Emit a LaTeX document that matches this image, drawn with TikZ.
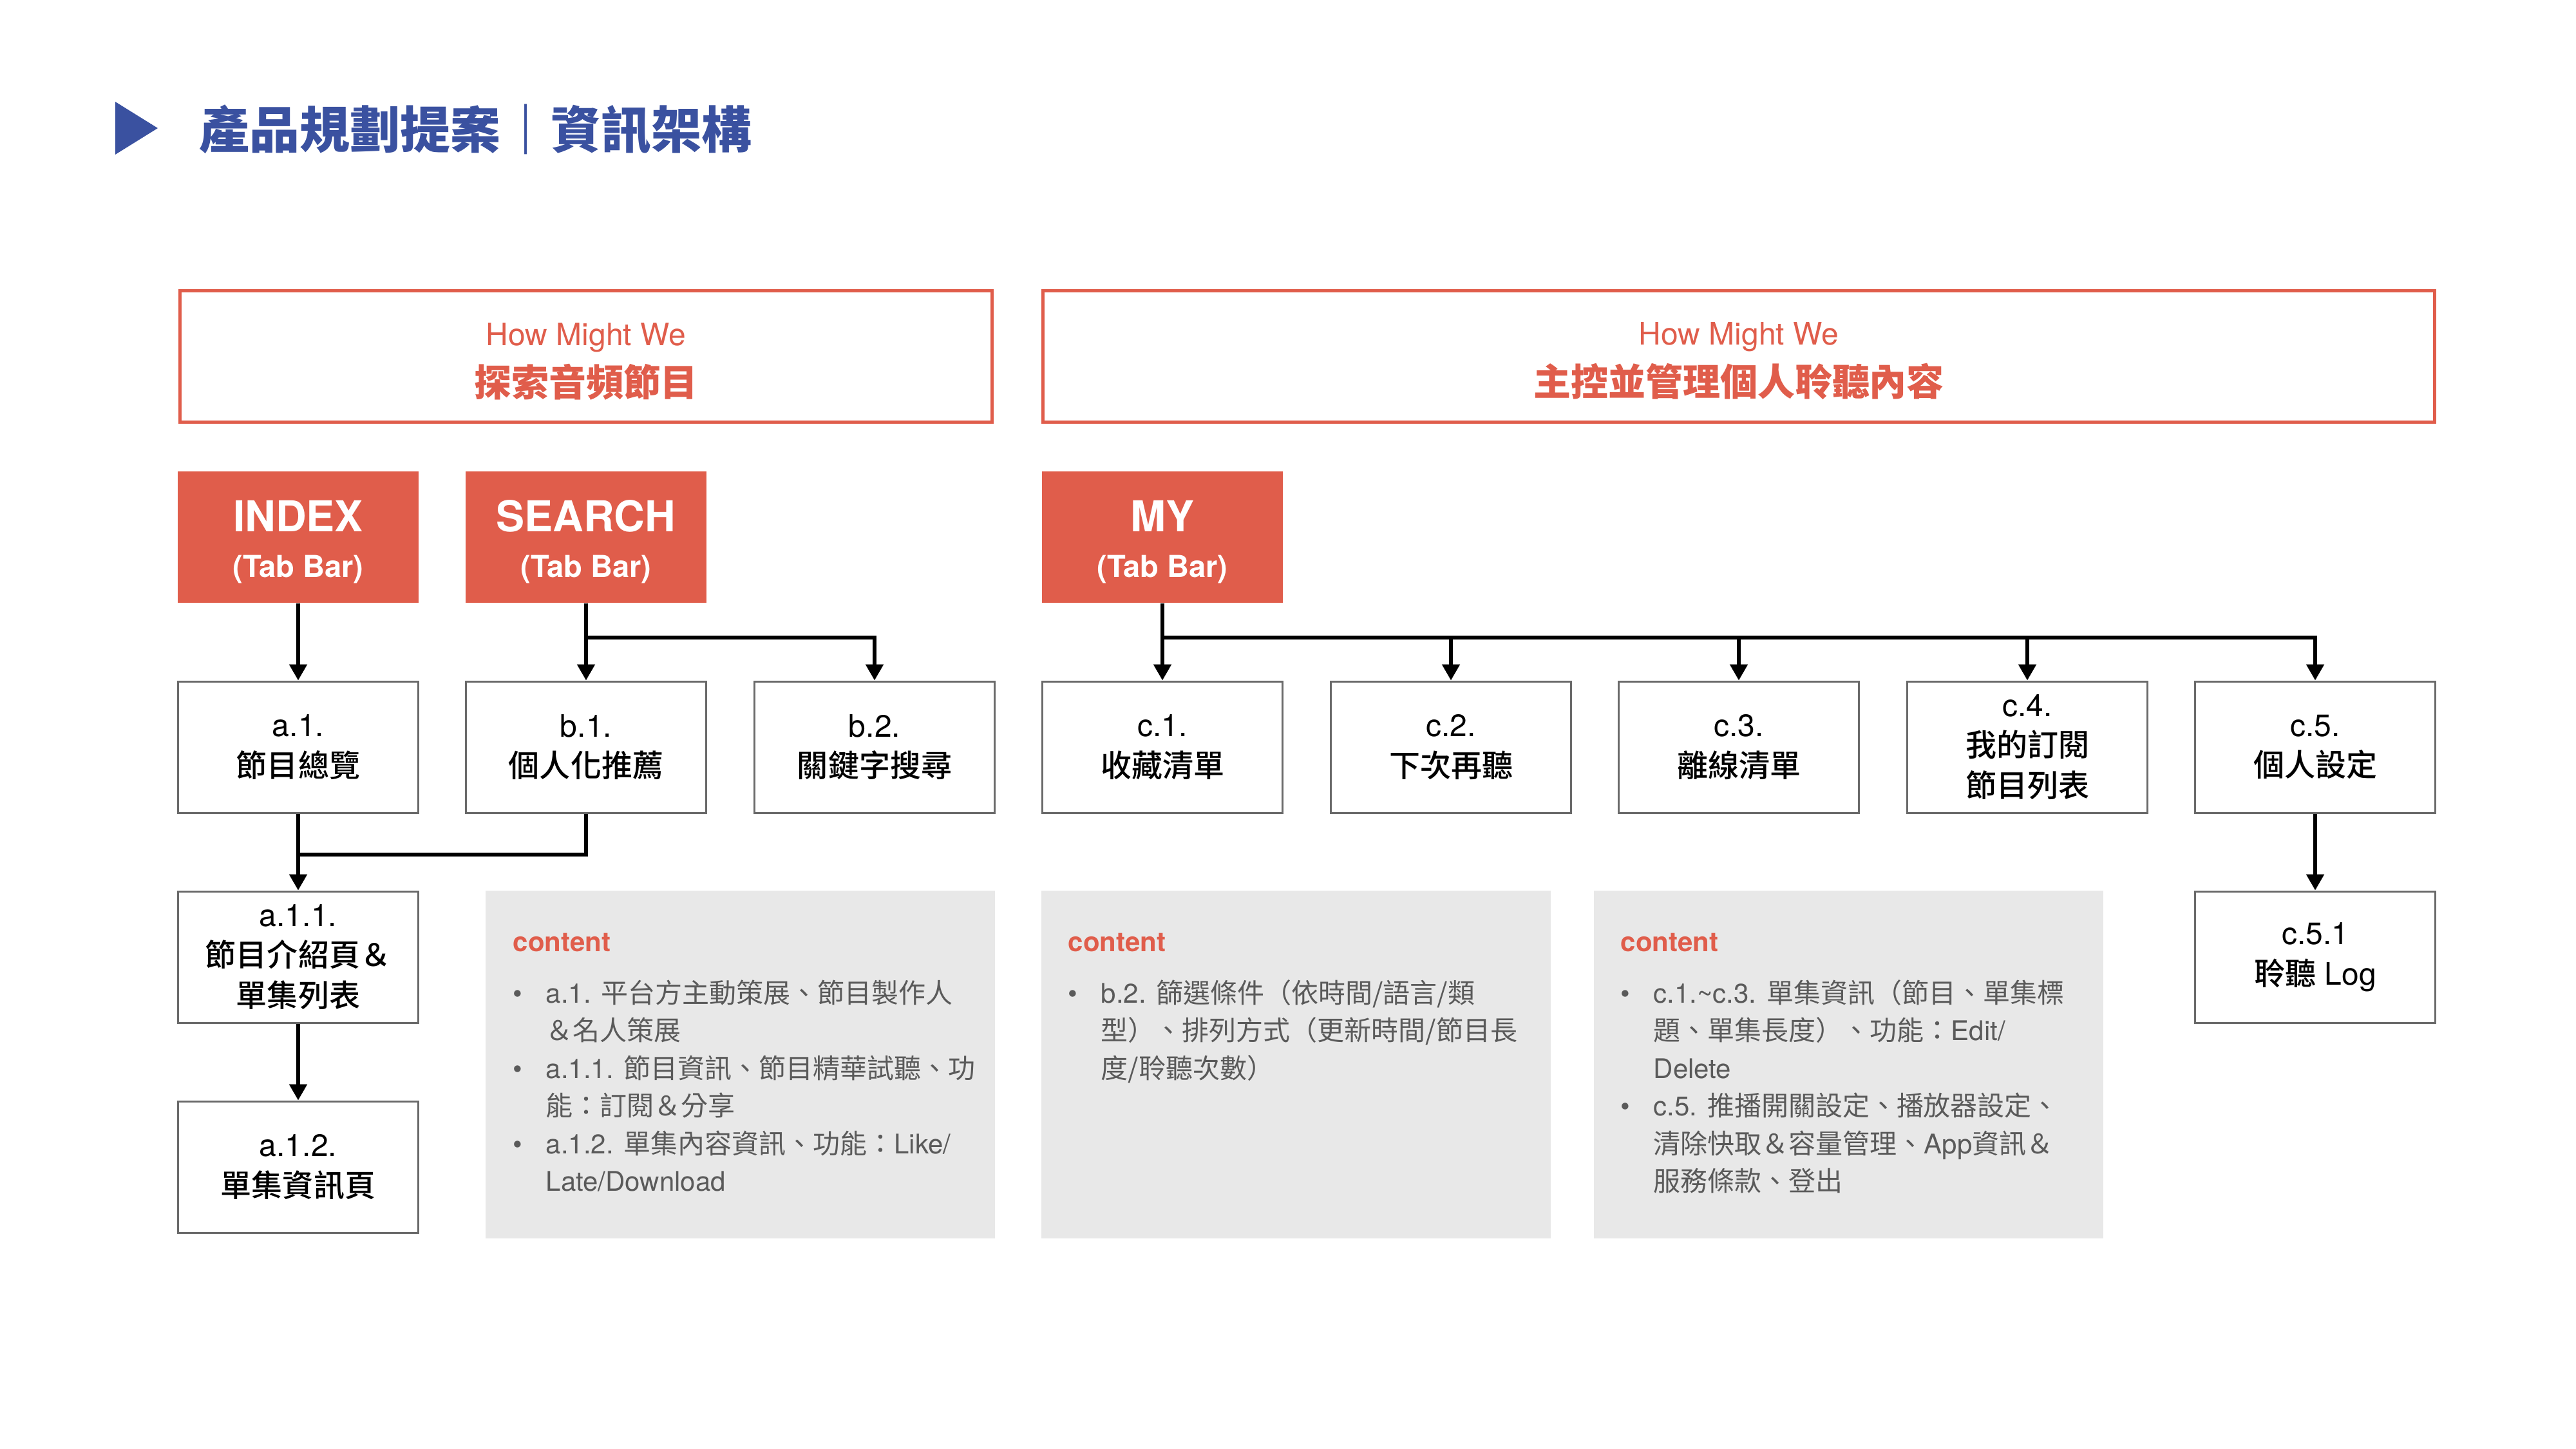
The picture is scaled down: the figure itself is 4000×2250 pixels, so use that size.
\documentclass[tikz,border=0pt]{standalone}
\usepackage{fontspec}
\setmainfont{TeX Gyre Heros}
\newfontfamily\cjk{Noto Sans CJK TC}
\IfFontExistsTF{Noto Sans CJK TC Medium}{\newfontfamily\cjkm{Noto Sans CJK TC Medium}}{\newcommand\cjkm{\cjk\bfseries}}
\usetikzlibrary{arrows.meta}
\definecolor{hmwred}{HTML}{E05D4B}
\definecolor{titleblue}{HTML}{3A51A0}
\definecolor{boxgray}{HTML}{6A6A6A}
\definecolor{contentbg}{HTML}{E8E8E8}
\definecolor{bodygray}{HTML}{5A5A5A}
\newcommand\zh[1]{{\cjk #1}}
\newcommand\zhm[1]{{\cjkm #1}}
\newcommand\fs[2]{\fontsize{#1pt}{#2pt}\selectfont}
\newcommand\bl[1]{\makebox[5.1mm][l]{\textbullet}#1}
\begin{document}
\begin{tikzpicture}[x=0.1mm,y=-0.1mm,
  hmw/.style={draw=hmwred, line width=0.5mm, minimum height=20.4mm, inner sep=0pt, align=center, text=hmwred, font=\fs{13.66}{22.5}},
  tab/.style={fill=hmwred, minimum width=37.4mm, minimum height=20.4mm, inner sep=0pt, align=center, text=white, font=\fs{18.8}{20}\bfseries},
  page/.style={draw=boxgray, line width=0.3mm, fill=white, minimum width=37.3mm, minimum height=20.4mm, inner sep=0pt, align=center, font=\fs{13.66}{17.8}},
  cbox/.style={fill=contentbg, minimum width=79.1mm, minimum height=54mm, inner sep=0pt},
  ctitle/.style={anchor=base west, inner sep=0pt, text=hmwred, font=\fs{11.95}{16.62}\bfseries},
  body/.style={anchor=base west, inner sep=0pt, text=bodygray, font=\fs{11.95}{16.62}},
  ln/.style={line width=0.55mm},
  arr/.style={line width=0.55mm, -{Triangle[length=2.5mm,width=2.7mm]}}]
\fill[white] (0,0) rectangle (4000,2250);
\useasboundingbox (0,0) rectangle (4000,2250);

% title
\fill[titleblue] (179,158) -- (245,199) -- (179,240) -- cycle;
\node[anchor=west, inner sep=0pt, text=titleblue, font=\fs{22.2}{26}\bfseries] (title) at (309,201) {\zh{產品規劃提案｜資訊架構}};

% HMW boxes
\node[hmw, minimum width=126.1mm] (hmwA) at (910,553) {\rule{0pt}{14.5pt}How Might We\\\fs{16.5}{22.5}\bfseries\zh{探索音頻節目}};
\node[hmw, minimum width=216.1mm] (hmwB) at (2700,553) {\rule{0pt}{14.5pt}How Might We\\\fs{16.5}{22.5}\bfseries\zh{主控並管理個人聆聽內容}};

% tab bars
\node[tab] (index) at (463,834) {\rule{0pt}{18.1pt}INDEX\\\fs{13.4}{20}(Tab Bar)};
\node[tab] (search) at (910,834) {\rule{0pt}{18.1pt}SEARCH\\\fs{13.4}{20}(Tab Bar)};
\node[tab] (my) at (1805,834) {\rule{0pt}{18.1pt}MY\\\fs{13.4}{20}(Tab Bar)};

% pages
\node[page] (a1) at (463,1160) {a.1.\\\zhm{節目總覽}};
\node[page] (b1) at (910,1160) {b.1.\\\zhm{個人化推薦}};
\node[page] (b2) at (1358,1160) {b.2.\\\zhm{關鍵字搜尋}};
\node[page] (c1) at (1805,1160) {c.1.\\\zhm{收藏清單}};
\node[page] (c2) at (2253,1160) {c.2.\\\zhm{下次再聽}};
\node[page] (c3) at (2700,1160) {c.3.\\\zhm{離線清單}};
\node[page] (c4) at (3148,1160) {c.4.\\\zhm{我的訂閱}\\\zhm{節目列表}};
\node[page] (c5) at (3595,1160) {c.5.\\\zhm{個人設定}};
\node[page] (a11) at (463,1486) {a.1.1.\\\zhm{節目介紹頁＆}\\\zhm{單集列表}};
\node[page] (a12) at (463,1812) {a.1.2.\\\zhm{單集資訊頁}};
\node[page] (c51) at (3595,1486) {c.5.1\\\zhm{聆聽} Log};

% connectors
\coordinate (busY) at (0,990);
\coordinate (mergeY) at (0,1327);
\draw[arr] (index.south) -- (a1.north);
\draw[arr] (search.south) -- (b1.north);
\draw[arr] (search.south) |- (b2.north |- busY) -- (b2.north);
\draw[arr] (my.south) -- (c1.north);
\foreach \n in {c2,c3,c4,c5}
  \draw[arr] (my.south) |- (\n.north |- busY) -- (\n.north);
\draw[ln] (b1.south) |- (a1.south |- mergeY);
\draw[arr] (a1.south) -- (a11.north);
\draw[arr] (a11.south) -- (a12.north);
\draw[arr] (c5.south) -- (c51.north);

% content boxes
\node[cbox] (g1) at (1149,1653) {};
\node[cbox] (g2) at (2012,1653) {};
\node[cbox] (g3) at (2870,1653) {};

\node[ctitle] (g1t) at (796,1477) {content};
\node[body] (g1l1) at (796,1557) {\bl{a.1. \zh{平台方主動策展、節目製作人}}};
\node[body] (g1l2) at (847,1615) {\zh{＆名人策展}};
\node[body] (g1l3) at (796,1674) {\bl{a.1.1. \zh{節目資訊、節目精華試聽、功}}};
\node[body] (g1l4) at (847,1732) {\zh{能：訂閱＆分享}};
\node[body] (g1l5) at (796,1791) {\bl{a.1.2. \zh{單集內容資訊、功能：}Like/}};
\node[body] (g1l6) at (847,1849) {Late/Download};

\node[ctitle] (g2t) at (1658,1477) {content};
\node[body] (g2l1) at (1658,1557) {\bl{b.2. \zh{篩選條件（依時間/語言/類}}};
\node[body] (g2l2) at (1709,1615) {\zh{型）、排列方式（更新時間/節目長}};
\node[body] (g2l3) at (1709,1674) {\zh{度/聆聽次數）}};

\node[ctitle] (g3t) at (2516,1477) {content};
\node[body] (g3l1) at (2516,1557) {\bl{c.1.\textasciitilde c.3. \zh{單集資訊（節目、單集標}}};
\node[body] (g3l2) at (2567,1615) {\zh{題、單集長度）、功能：}Edit/};
\node[body] (g3l3) at (2567,1674) {Delete};
\node[body] (g3l4) at (2516,1732) {\bl{c.5. \zh{推播開關設定、播放器設定、}}};
\node[body] (g3l5) at (2567,1791) {\zh{清除快取＆容量管理、}App\zh{資訊＆}};
\node[body] (g3l6) at (2567,1849) {\zh{服務條款、登出}};
\end{tikzpicture}
\end{document}
